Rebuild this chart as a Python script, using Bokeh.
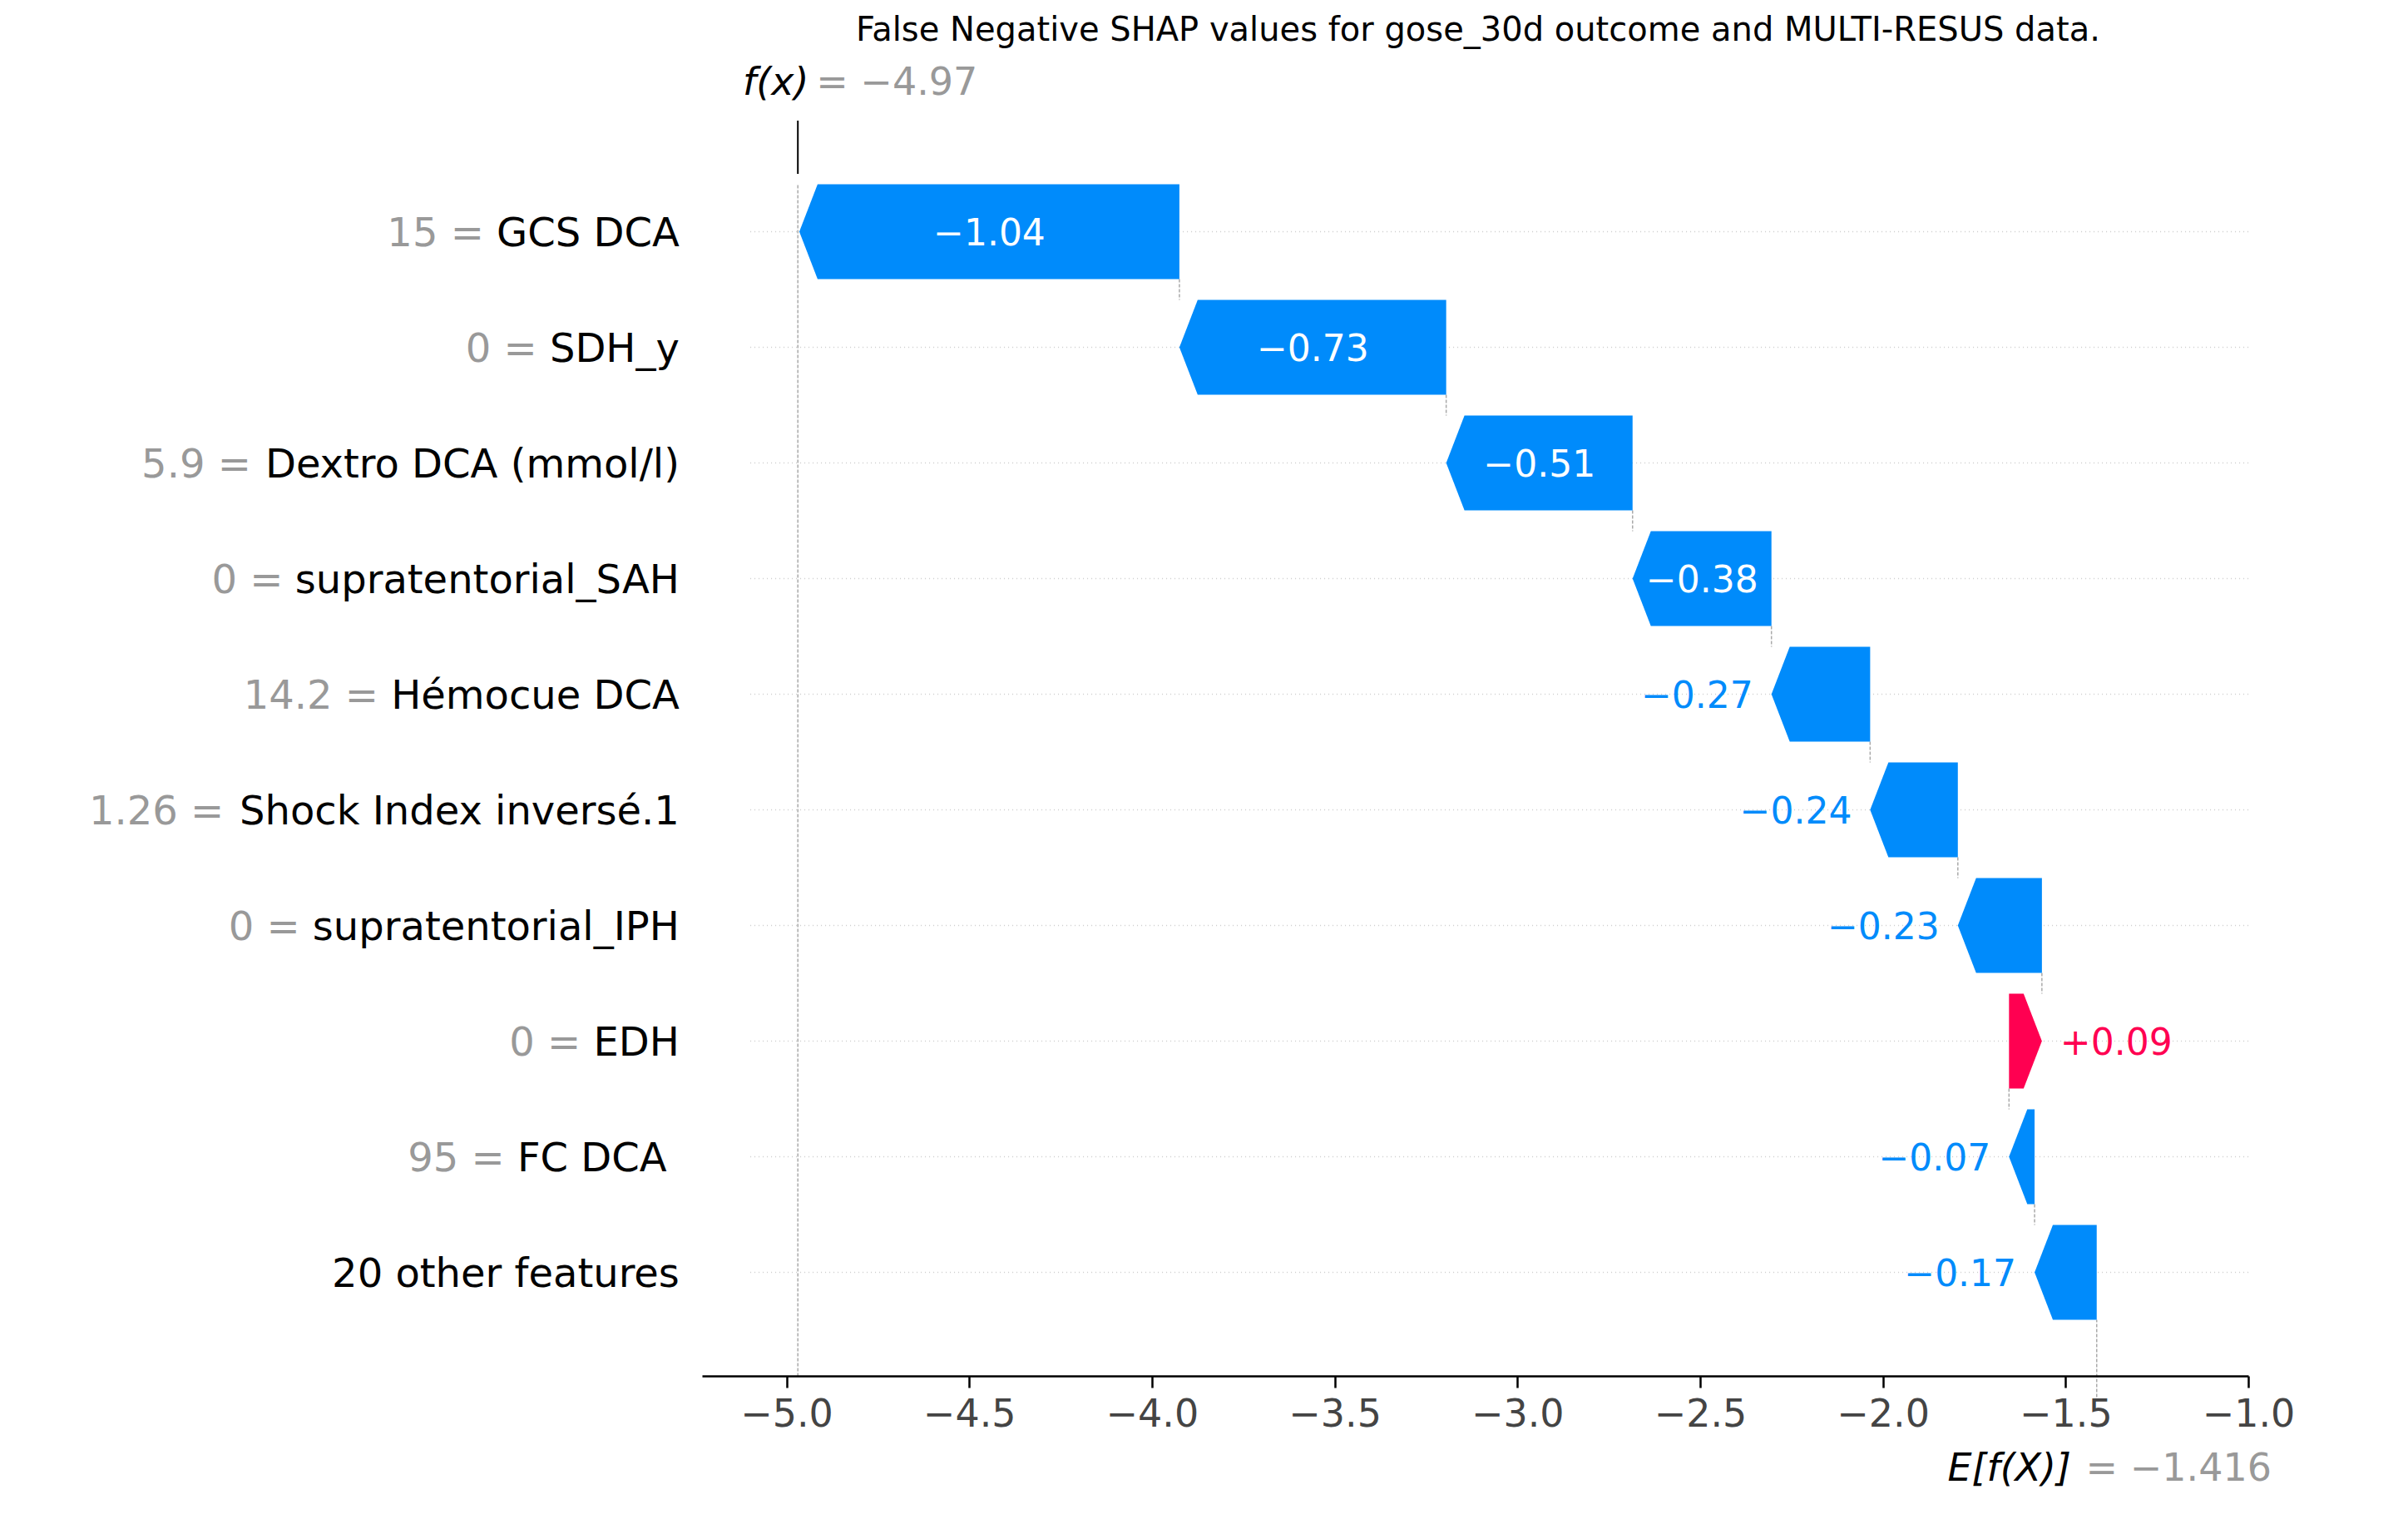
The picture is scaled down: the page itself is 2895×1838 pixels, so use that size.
from bokeh.plotting import figure
from bokeh.models import ColumnDataSource, LinearAxis, FixedTicker
from bokeh.core.properties import value
from bokeh.embed import file_html
from bokeh.resources import INLINE

# data, top row first
feature_values = ["15", "0", "5.9", "0", "14.2", "1.26", "0", "0", "95", ""]
feature_names = ["GCS DCA", "SDH_y", "Dextro DCA (mmol/l)", "supratentorial_SAH", "Hémocue DCA",
                 "Shock Index inversé.1", "supratentorial_IPH", "EDH", "FC  DCA", "20 other features"]
shap_values = [-1.04, -0.73, -0.51, -0.38, -0.27, -0.24, -0.23, 0.09, -0.07, -0.17]
base_value = -1.416
fx_value = -4.97
title_text = "False Negative SHAP values for gose_30d outcome and MULTI-RESUS data."

BLUE = "#008bfb"
RED = "#ff0051"
GRAY = "#999999"
FONT = value("DejaVu Sans")

# rough DejaVu Sans glyph widths (em)
W = {' ': .318, '.': .318, '=': .838, '_': .5, '(': .39, ')': .39, '/': .337,
     'a': .613, 'b': .635, 'c': .55, 'd': .635, 'e': .615, 'é': .615, 'f': .352, 'g': .635,
     'h': .634, 'i': .278, 'l': .278, 'm': .974, 'n': .634, 'o': .612, 'p': .635, 'r': .411,
     's': .521, 't': .392, 'u': .634, 'v': .592, 'x': .592, 'y': .592,
     'A': .684, 'C': .698, 'D': .770, 'E': .632, 'F': .575, 'G': .775, 'H': .752, 'I': .295,
     'M': .863, 'P': .603, 'R': .695, 'S': .635, 'U': .732}
def text_width(s):
    return sum(W.get(c, .636) for c in s)

n = len(shap_values)
rows = list(range(n - 1, -1, -1))  # top row -> y = 9

# cumulative from bottom
after = [0.0] * n
before = [0.0] * n
cur = base_value
for i in range(n - 1, -1, -1):
    before[i] = cur
    cur = cur + shap_values[i]
    after[i] = cur

PX = 439.5   # px per x unit
PY = 139.0   # px per row
x_start, x_end = -7.152, -0.62
y_start, y_end = -2.0, 11.0
width = int((x_end - x_start) * PX)
height = int((y_end - y_start) * PY)

p = figure(width=width, height=height, x_range=(x_start, x_end), y_range=(y_start, y_end),
           output_backend="svg", toolbar_location=None, x_axis_location=None, y_axis_location=None,
           min_border=0, outline_line_color=None)
p.grid.visible = False

# grid lines at rows
p.segment(x0=[-5.1] * n, x1=[-1.0] * n, y0=rows, y1=rows, line_color="#cccccc",
          line_dash="1 4", line_width=1.5)

# connector lines
cx, cy0, cy1 = [], [], []
for i in range(n - 1):
    cx.append(after[i + 1])
    cy0.append(rows[i] + 0.41)
    cy1.append(rows[i + 1] - 0.41)
    cy0[-1] = rows[i]
p.segment(x0=cx, x1=cx, y0=[r - 0.41 for r in rows[:-1]], y1=[r + 0.41 for r in rows[1:]],
          line_color="#aaaaaa", line_dash="4 2", line_width=1.5)
p.segment(x0=[fx_value], x1=[fx_value], y0=[-0.9], y1=[rows[0] + 0.41], line_color="#aaaaaa",
          line_dash="4 2", line_width=1.5)
p.segment(x0=[fx_value], x1=[fx_value], y0=[9.5], y1=[9.96], line_color="black", line_width=2)
p.segment(x0=[base_value], x1=[base_value], y0=[-1.08], y1=[rows[-1] - 0.41], line_color="#aaaaaa",
          line_dash="4 2", line_width=1.5)

# arrows
hh = 0.41
xs, ys, cols = [], [], []
for i in range(n):
    y = rows[i]
    a, b = before[i], after[i]
    hl = min(0.05, abs(a - b))
    if b < a:
        xs.append([a, b + hl, b, b + hl, a])
    else:
        xs.append([a, b - hl, b, b - hl, a])
    ys.append([y - hh, y - hh, y, y + hh, y + hh])
    cols.append(BLUE if shap_values[i] < 0 else RED)
p.patches(xs=xs, ys=ys, fill_color=cols, line_color=None)

# value labels
in_x, in_y, in_t = [], [], []
out_x, out_y, out_t, out_c, out_a = [], [], [], [], []
for i in range(n):
    v = shap_values[i]
    t = ("+" if v > 0 else "\u2212") + "%.2f" % abs(v)
    if abs(v) > 0.3:
        in_x.append((before[i] + after[i]) / 2)
        in_y.append(rows[i])
        in_t.append(t)
    elif v < 0:
        out_x.append(after[i] - 0.05)
        out_y.append(rows[i])
        out_t.append(t)
        out_c.append(BLUE)
        out_a.append("right")
    else:
        out_x.append(after[i] + 0.05)
        out_y.append(rows[i])
        out_t.append(t)
        out_c.append(RED)
        out_a.append("left")
p.text(x=in_x, y=in_y, text=in_t, text_color="white", text_font=FONT, text_font_size="44px",
       text_align="center", text_baseline="middle")
p.text(x=out_x, y=out_y, text=out_t, text_color=out_c, text_font=FONT, text_font_size="44px",
       text_align=out_a, text_baseline="middle")

# feature labels
LX = -5.294
FS = 48
p.text(x=[LX] * n, y=rows, text=feature_names, text_color="black", text_font=FONT,
       text_font_size="%dpx" % FS, text_align="right", text_baseline="middle")
gx = []
gt = []
for i in range(n):
    gt.append(feature_values[i] + " = " if feature_values[i] else "")
    gx.append(LX - text_width(feature_names[i]) * FS / PX)
p.text(x=gx, y=rows, text=gt, text_color=GRAY, text_font=FONT,
       text_font_size="%dpx" % FS, text_align="right", text_baseline="middle")

# f(x) and E[f(X)] labels
p.text(x=[fx_value + 0.05], y=[10.3], text=["= \u22124.97"], text_color=GRAY, text_font=FONT,
       text_font_size="46px", text_align="left", text_baseline="middle")
p.text(x=[fx_value + 0.03], y=[10.3], text=["f(x)"], text_color="black", text_font=FONT,
       text_font_size="46px", text_font_style="italic", text_align="right", text_baseline="middle")
p.text(x=[base_value - 0.03], y=[-1.69], text=["= \u22121.416"], text_color=GRAY, text_font=FONT,
       text_font_size="46px", text_align="left", text_baseline="middle")
p.text(x=[base_value - 0.07], y=[-1.69], text=["E[f(X)]"], text_color="black", text_font=FONT,
       text_font_size="46px", text_font_style="italic", text_align="right", text_baseline="middle")

# title
p.text(x=[-3.109], y=[10.75], text=[title_text], text_color="black", text_font=FONT,
       text_font_size="40px", text_align="center", text_baseline="middle")

# x axis
ticks = [-5.0, -4.5, -4.0, -3.5, -3.0, -2.5, -2.0, -1.5, -1.0]
ax = LinearAxis(fixed_location=-0.9, bounds=(-5.23, -1.0),
                ticker=FixedTicker(ticks=ticks),
                major_label_overrides={t: ("%.1f" % t).replace("-", "\u2212") for t in ticks})
ax.axis_line_width = 2.5
ax.major_tick_line_width = 2.5
ax.major_tick_out = 14
ax.major_tick_in = 0
ax.minor_tick_line_color = None
ax.major_label_text_font = "DejaVu Sans"
ax.major_label_text_font_size = "46px"
ax.major_label_standoff = 12
p.add_layout(ax, "below")

open("out.html", "w").write(file_html(p, INLINE))
